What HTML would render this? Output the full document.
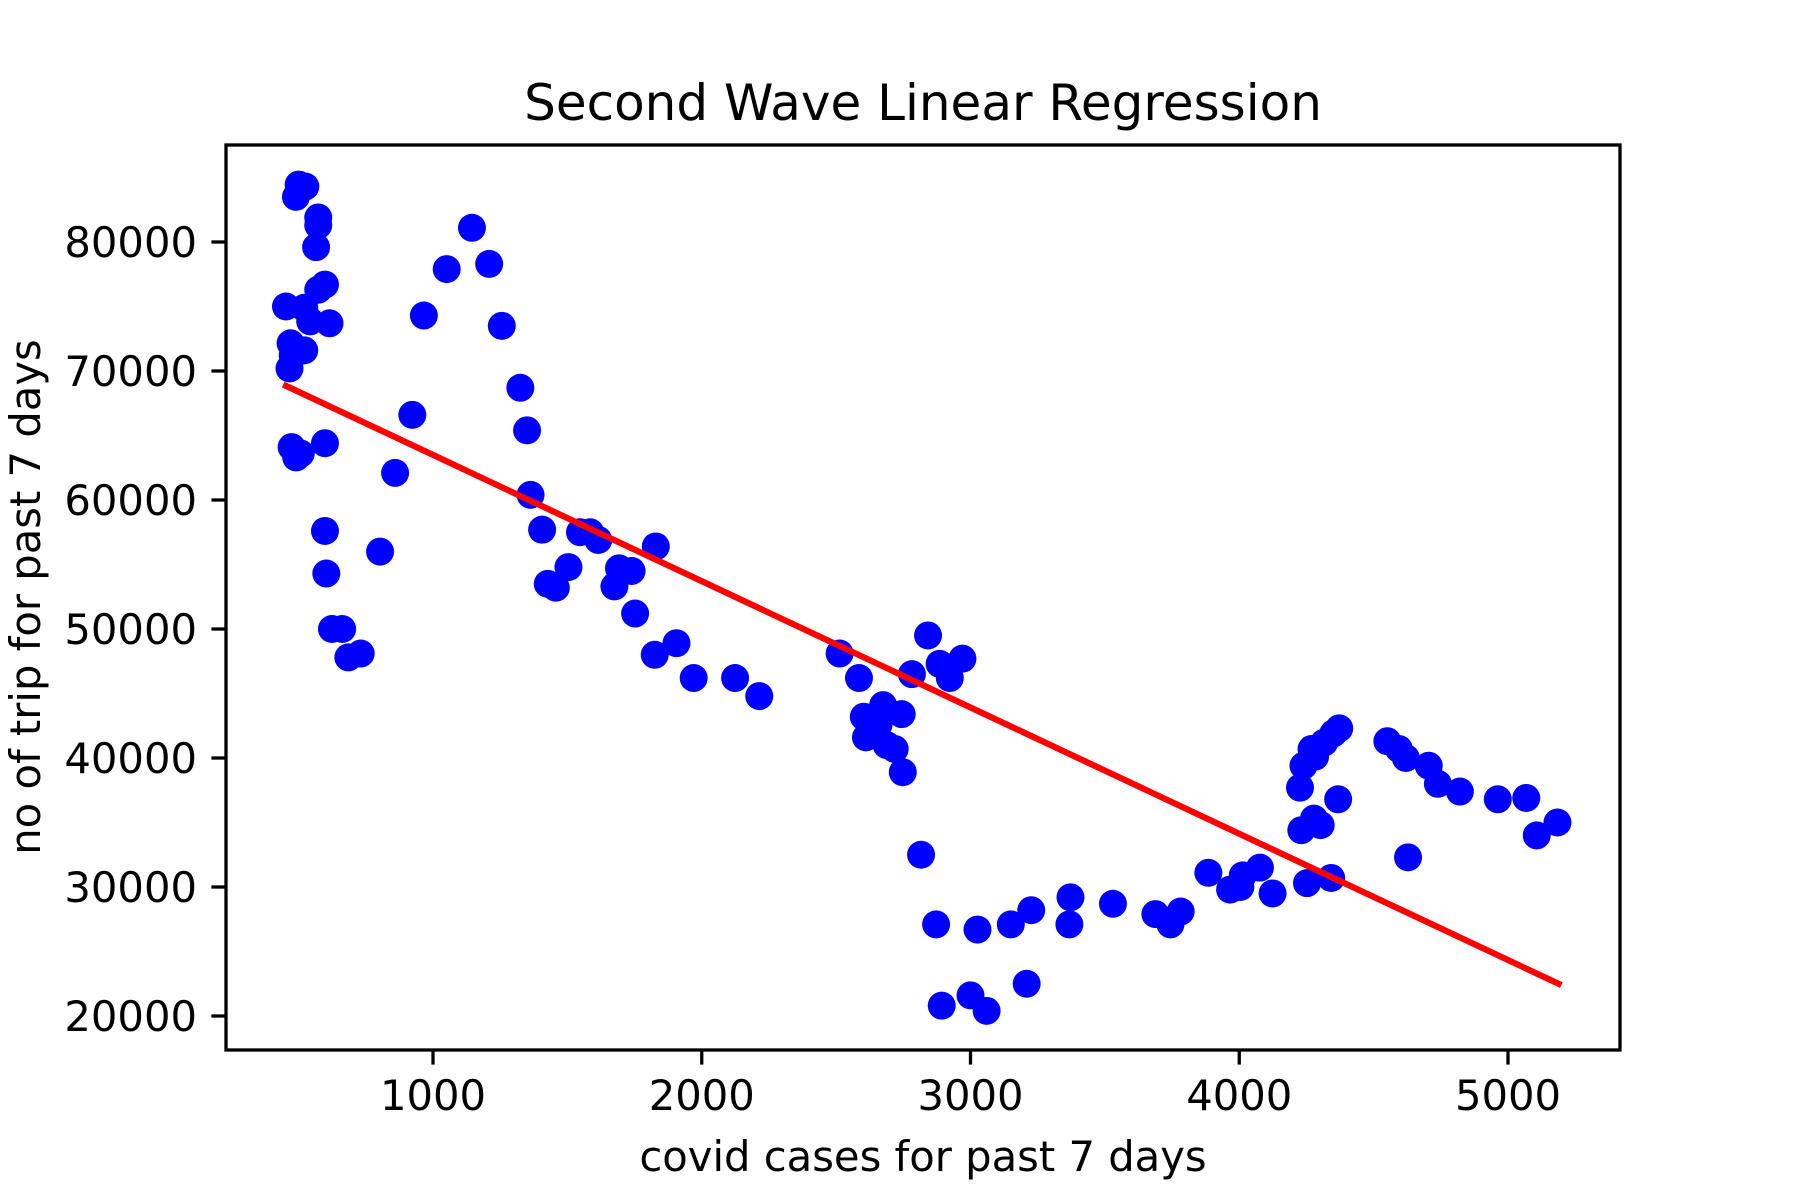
<!DOCTYPE html>
<html><head><meta charset="utf-8"><style>
html,body{margin:0;padding:0;background:#fff;}
svg{display:block;font-family:"DejaVu Sans","Liberation Sans",sans-serif;}
</style></head><body>
<svg id="chart" width="1800" height="1200" viewBox="0 0 1800 1200">
<rect x="0" y="0" width="1800" height="1200" fill="#fff"/>
<text x="923" y="120" text-anchor="middle" font-size="50" fill="#000">Second Wave Linear Regression</text>
<text x="923" y="1171" text-anchor="middle" font-size="41.7" fill="#000">covid cases for past 7 days</text>
<text transform="translate(40,597) rotate(-90)" text-anchor="middle" font-size="41.7" fill="#000">no of trip for past 7 days</text>
<g id="marks"></g>
<g id="axes"></g>
</svg>
<script>
const xs = [500,525,490,573,573,565,453,521,543,615,573,598,470,478,521,466,474,491,508,598,598,603,624,662,685,731,803,859,923,966,1051,1145,1209,1256,1325,1350,1363,1406,1427,1457,1504,1547,1585,1615,1675,1692,1739,1752,1825,1829,1906,1970,2124,2214,2513,2585,2603,2611,2658,2675,2688,2718,2744,2748,2782,2816,2842,2872,2885,2893,2923,2970,3000,3026,3060,3150,3209,3226,3372,3368,3530,3688,3744,3782,3885,3966,4004,4013,4077,4124,4226,4239,4231,4252,4269,4282,4278,4303,4316,4342,4350,4372,4368,4551,4594,4620,4628,4705,4739,4821,4962,5068,5107,5184];
const ys = [84450,84300,83500,81900,81300,79600,75000,74900,73850,73700,76300,76700,72150,71200,71600,70200,64100,63300,63600,64400,57600,54300,50000,50000,47800,48100,56000,62100,66600,74300,77900,81100,78300,73500,68700,65400,60400,57700,53500,53200,54800,57500,57500,56900,53300,54700,54500,51200,48000,56400,48900,46200,46200,44800,48100,46200,43200,41600,42600,44100,41000,40700,43400,38900,46500,32500,49500,27100,47300,20800,46200,47700,21600,26700,20400,27100,22500,28200,29200,27100,28700,27900,27100,28100,31100,29800,30000,30900,31500,29500,37700,39400,34400,30300,40700,40100,35300,34800,41200,30700,41900,42300,36800,41300,40700,40000,32300,39400,38000,37400,36800,36900,34000,35000];
const lineX = [453,5188];
const lineY = [68850,22500];
const xTicks = [1000,2000,3000,4000,5000];
const yTicks = [20000,30000,40000,50000,60000,70000,80000];

const L=226,R=1620,T=145,B=1050;
function sx(v){return 433+(v-1000)*(1508-433)/4000;}
function sy(v){return 1016-(v-20000)*(1016-242)/60000;}
const NS='http://www.w3.org/2000/svg';
function mk(tag,attrs,parent){const e=document.createElementNS(NS,tag);for(const k in attrs)e.setAttribute(k,attrs[k]);parent.appendChild(e);return e;}
const marks=document.getElementById('marks'), axes=document.getElementById('axes');
for(let i=0;i<xs.length;i++){
  const c=mk('circle',{cx:sx(xs[i]),cy:sy(ys[i]),r:14,fill:'#0000ff'},marks);
  
  
}
const ln=mk('line',{x1:sx(lineX[0]),y1:sy(lineY[0]),x2:sx(lineX[1]),y2:sy(lineY[1]),stroke:'#ff0000','stroke-width':6.2,'stroke-linecap':'square'},marks);


const fr=mk('rect',{x:L,y:T,width:R-L,height:B-T,fill:'none',stroke:'#000','stroke-width':3.3},axes);


for(const t of xTicks){
  const x=sx(t);
  const tk=mk('line',{x1:x,y1:B,x2:x,y2:B+14.6,stroke:'#000','stroke-width':3.3},axes);
  
  
  const tx=mk('text',{x:x,y:1110,'text-anchor':'middle','font-size':41.7,fill:'#000'},axes);
  tx.textContent=t;
  
  
}
for(const t of yTicks){
  const y=sy(t);
  const tk=mk('line',{x1:L-14.6,y1:y,x2:L,y2:y,stroke:'#000','stroke-width':3.3},axes);
  
  
  const tx=mk('text',{x:197,y:y+15,'text-anchor':'end','font-size':41.7,fill:'#000'},axes);
  tx.textContent=t;
  
  
}
</script>
</body></html>
